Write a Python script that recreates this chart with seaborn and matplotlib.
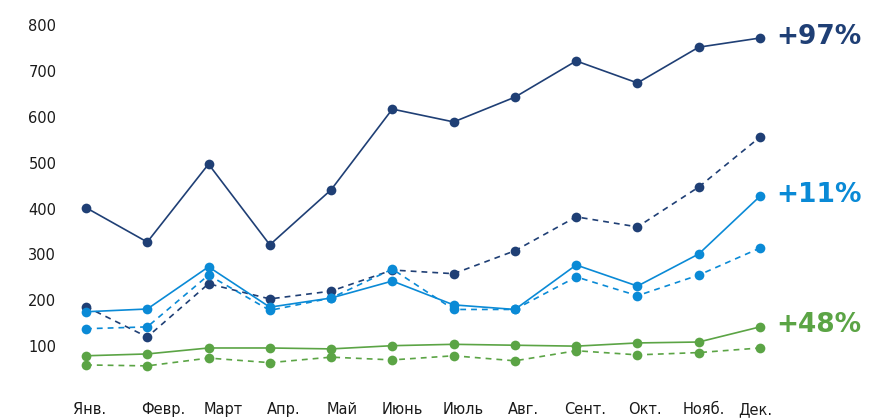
import numpy as np
import pandas as pd
import seaborn as sns
import matplotlib.pyplot as plt
from matplotlib.transforms import ScaledTranslation

months = ['Янв.', 'Февр.', 'Март', 'Апр.', 'Май', 'Июнь',
          'Июль', 'Авг.', 'Сент.', 'Окт.', 'Нояб.', 'Дек.']

navy_cur = [402, 327, 497, 321, 441, 617, 589, 643, 722, 674, 752, 772]
navy_prev = [186, 120, 236, 203, 220, 266, 258, 308, 382, 360, 447, 556]
blue_cur = [175, 181, 273, 185, 205, 242, 190, 180, 277, 231, 301, 427]
blue_prev = [138, 142, 255, 178, 205, 268, 180, 180, 251, 210, 255, 314]
green_cur = [79, 83, 96, 96, 94, 101, 104, 102, 100, 107, 109, 142]
green_prev = [59, 57, 74, 64, 76, 70, 79, 68, 90, 81, 86, 96]

growth_labels = ['+97%', '+11%', '+48%']

NAVY = '#1f3f75'
BLUE = '#0a8ad6'
GREEN = '#5ba445'

series = [
    ('navy_cur', navy_cur, NAVY, '-'),
    ('navy_prev', navy_prev, NAVY, '--'),
    ('blue_cur', blue_cur, BLUE, '-'),
    ('blue_prev', blue_prev, BLUE, '--'),
    ('green_cur', green_cur, GREEN, '-'),
    ('green_prev', green_prev, GREEN, '--'),
]

sns.set_style('white')
plt.rcParams['font.family'] = ['DejaVu Sans']

fig = plt.figure(figsize=(8.69, 4.2), dpi=100)
ax = fig.add_axes([70 / 869, 28 / 420, 706 / 869, 376 / 420])

x = np.arange(len(months))
for name, vals, color, ls in series:
    df = pd.DataFrame({'x': x, 'y': vals})
    sns.lineplot(data=df, x='x', y='y', ax=ax, color=color, linestyle=ls,
                 linewidth=1.2, marker='o', markersize=7,
                 markeredgewidth=0, legend=False)
    if ls == '--':
        ax.lines[-1].set_dashes((3.5, 3))

ax.set_xlim(-0.261, 11.261)
ax.set_ylim(0, 820)
ax.set_xlabel('')
ax.set_ylabel('')
sns.despine(ax=ax, left=True, bottom=True)

ax.set_yticks([100, 200, 300, 400, 500, 600, 700, 800])
ax.set_yticklabels(['100', '200', '300', '400', '500', '600', '700', '800'],
                   fontsize=10.5, color='#1a1a1a', ha='left')
ax.tick_params(axis='y', length=0, pad=30)

ax.set_xticks(x)
ax.set_xticklabels(months, fontsize=10.5, color='#1a1a1a')
ax.tick_params(axis='x', length=0, pad=7)
label_shift = [4, 16, 15, 14, 11, 10, 10, 9, 9, 7, 5, -5]
for lab, dx in zip(ax.get_xticklabels(), label_shift):
    lab.set_transform(lab.get_transform() + ScaledTranslation(dx / 100, 0, fig.dpi_scale_trans))

ends = [navy_cur[-1], blue_cur[-1], green_cur[-1]]
colors = [NAVY, BLUE, GREEN]
for txt, yv, c in zip(growth_labels, ends, colors):
    ax.annotate(txt, xy=(x[-1], yv), xytext=(12, 1), textcoords='offset points',
                ha='left', va='center', fontsize=19, fontweight='bold',
                color=c, annotation_clip=False)

fig.savefig('out.png', dpi=100)
